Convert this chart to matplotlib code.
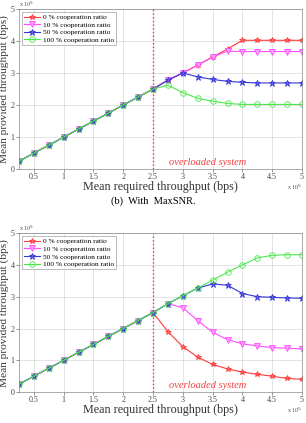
import matplotlib
matplotlib.use('Agg')
import matplotlib.pyplot as plt
import numpy as np

# required throughput (x 10^5 bps)
x = [0.25, 0.5, 0.75, 1.0, 1.25, 1.5, 1.75, 2.0, 2.25, 2.5,
     2.75, 3.0, 3.25, 3.5, 3.75, 4.0, 4.25, 4.5, 4.75, 5.0]
ramp = [0.25, 0.5, 0.75, 1.0, 1.25, 1.5, 1.75, 2.0, 2.25, 2.5]

labels = ['0 % cooperation ratio', '10 % cooperation ratio',
          '50 % cooperation ratio', '100 % cooperation ratio']

# (b) With MaxSNR
top_0 = ramp + [2.78, 3.0, 3.25, 3.5, 3.75, 4.02, 4.02, 4.02, 4.02, 4.02]
top_10 = ramp + [2.78, 3.0, 3.25, 3.5, 3.68, 3.67, 3.67, 3.67, 3.67, 3.67]
top_50 = ramp + [2.78, 3.0, 2.88, 2.8, 2.74, 2.71, 2.69, 2.69, 2.69, 2.69]
top_100 = ramp + [2.62, 2.39, 2.21, 2.12, 2.05, 2.02, 2.02, 2.02, 2.02, 2.02]

# second scheme
bot_0 = ramp + [1.9, 1.43, 1.1, 0.87, 0.73, 0.63, 0.56, 0.5, 0.43, 0.4]
bot_10 = ramp + [2.78, 2.65, 2.25, 1.88, 1.65, 1.52, 1.45, 1.4, 1.38, 1.36]
bot_50 = ramp + [2.78, 3.03, 3.27, 3.4, 3.36, 3.1, 3.0, 2.98, 2.96, 2.95]
bot_100 = ramp + [2.78, 3.03, 3.27, 3.52, 3.77, 4.0, 4.22, 4.3, 4.32, 4.32]

colors = ['#ff3b3b', '#ff4dff', '#3535d8', '#4be84b']
faces = ['#ff7070', '#ff9cff', '#6a6ae8', 'none']
markers = ['*', 'v', '*', 'o']
msizes = [4, 4, 5, 4]

plt.rcParams['font.family'] = ['Liberation Serif', 'DejaVu Serif']

fig = plt.figure(figsize=(3.06, 4.23), dpi=100)
ax1 = fig.add_axes([0.062, 0.600, 0.925, 0.379])
ax2 = fig.add_axes([0.062, 0.073, 0.925, 0.376])


def draw(ax, series):
    for s, c, f, m, ms, lab in zip(series, colors, faces, markers, msizes, labels):
        ax.plot(x, s, color=c, lw=0.8, marker=m, ms=ms, mfc=f, mec=c,
                mew=0.6, label=lab)
    ax.axvline(2.5, color='#e83a3a', ls=':', lw=1.0)
    ax.text(3.42, 0.22, 'overloaded system', color='#f04040', style='italic',
            fontsize=7.5, ha='center', va='center')
    ax.set_xlim(0.25, 5)
    ax.set_ylim(0, 5)
    ax.set_xticks([0.5, 1, 1.5, 2, 2.5, 3, 3.5, 4, 4.5, 5])
    ax.set_xticklabels(['0.5', '1', '1.5', '2', '2.5', '3', '3.5', '4', '4.5', '5'])
    ax.set_yticks([0, 1, 2, 3, 4, 5])
    ax.grid(True, color='#d8d8d8', lw=0.5)
    ax.tick_params(labelsize=5.8, length=2, width=0.4, pad=1, colors='#444444')
    for sp in ax.spines.values():
        sp.set_color('#888888')
        sp.set_linewidth(0.5)
    ax.set_xlabel('Mean required throughput (bps)', fontsize=8.7, labelpad=0, color='#333333')
    ax.set_ylabel('Mean provided throughput (bps)', fontsize=8.2, labelpad=1, color='#333333')
    ax.text(0.0, 1.0, r'x 10$^5$', transform=ax.transAxes, fontsize=4.5,
            va='bottom', ha='left', color='#555555')
    ax.text(1.0, -0.085, r'x 10$^5$', transform=ax.transAxes, fontsize=4.5,
            va='top', ha='right', color='#555555')
    leg = ax.legend(loc='upper left', fontsize=5.3, frameon=True, fancybox=False,
                    borderpad=0.3, labelspacing=0.2, handlelength=2.2,
                    handletextpad=0.3, borderaxespad=0.4)
    leg.get_frame().set_edgecolor('#888888')
    leg.get_frame().set_linewidth(0.5)


draw(ax1, [top_0, top_10, top_50, top_100])
draw(ax2, [bot_0, bot_10, bot_50, bot_100])

fig.text(0.5, 0.525, '(b)  With  MaxSNR.', ha='center', va='center', fontsize=7.5)

fig.savefig('out.png', dpi=100)
